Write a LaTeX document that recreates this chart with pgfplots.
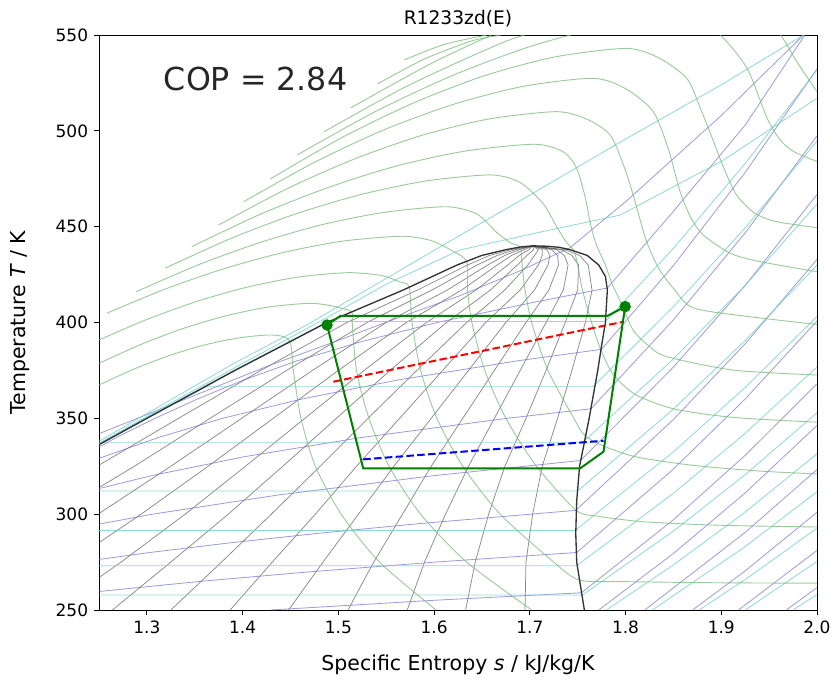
\documentclass[border=0pt]{standalone}
\usepackage{fontspec}
\setmainfont{DejaVu Sans}
\usepackage{pgfplots}
\pgfplotsset{compat=1.18}

\definecolor{isoP}{RGB}{120,205,205}
\definecolor{isoD}{RGB}{105,105,205}
\definecolor{isoH}{RGB}{120,185,120}
\definecolor{isoQ}{RGB}{60,60,60}
\definecolor{cyc}{RGB}{0,128,0}

\tikzset{
  qline/.style={isoQ, line width=0.45pt, opacity=0.6},
  pline/.style={isoP, line width=0.5pt, opacity=0.8},
  dline/.style={isoD, line width=0.5pt, opacity=0.65},
  hline/.style={isoH, line width=0.55pt, opacity=0.75, smooth, tension=0.45},
}

\begin{document}
\begin{tikzpicture}
\useasboundingbox (-59.4pt,-44.4pt) rectangle (440.4pt,366pt);
\begin{axis}[
  name=ax,
  at={(0,0)}, anchor=south west,
  scale only axis, width=430.8pt, height=345pt,
  xmin=1.25, xmax=2.0, ymin=250, ymax=550,
  xtick={1.3,1.4,1.5,1.6,1.7,1.8,1.9,2.0},
  xticklabels={1.3,1.4,1.5,1.6,1.7,1.8,1.9,2.0},
  ytick={250,300,350,400,450,500,550},
  tick pos=left, tick align=outside, major tick length=3pt,
  tick style={black, line width=0.5pt},
  axis line style={line width=0.5pt},
  /pgf/number format/assume math mode=true,
  tick label style={font=\fontsize{10.2}{12}\selectfont},
  label style={font=\fontsize{12.3}{14}\selectfont},
  xlabel={Specific Entropy \textit{s} / kJ/kg/K},
  xlabel style={at={(axis description cs:0.5,-0.0957)}, anchor=center},
  ylabel={Temperature \textit{T} / K},
  ylabel style={at={(axis description cs:-0.11,0.5)}, anchor=center},
]
% ---------- quality lines ----------
\addplot[qline] coordinates {(0.956,250)(1.061,275)(1.158,300)(1.248,325)(1.333,350)(1.419,375)(1.509,400)(1.583,417)(1.635,430)(1.658,435)(1.680,438)(1.703,440)};
\addplot[qline] coordinates {(1.017,250)(1.114,275)(1.204,300)(1.287,325)(1.366,350)(1.446,375)(1.530,400)(1.598,417)(1.645,430)(1.666,435)(1.685,438)(1.703,440)};
\addplot[qline] coordinates {(1.079,250)(1.167,275)(1.249,300)(1.325,325)(1.399,350)(1.473,375)(1.550,400)(1.614,417)(1.656,430)(1.674,435)(1.689,438)(1.703,440)};
\addplot[qline] coordinates {(1.140,250)(1.220,275)(1.294,300)(1.364,325)(1.432,350)(1.500,375)(1.571,400)(1.629,417)(1.666,430)(1.681,435)(1.694,438)(1.703,440)};
\addplot[qline] coordinates {(1.202,250)(1.273,275)(1.340,300)(1.403,325)(1.465,350)(1.527,375)(1.592,400)(1.644,417)(1.677,430)(1.689,435)(1.699,438)(1.703,440)};
\addplot[qline] coordinates {(1.264,250)(1.325,275)(1.385,300)(1.442,325)(1.498,350)(1.554,375)(1.613,400)(1.659,417)(1.687,430)(1.697,435)(1.704,438)(1.703,440)};
\addplot[qline] coordinates {(1.325,250)(1.378,275)(1.430,300)(1.481,325)(1.531,350)(1.582,375)(1.634,400)(1.674,417)(1.698,430)(1.705,435)(1.709,438)(1.703,440)};
\addplot[qline] coordinates {(1.387,250)(1.431,275)(1.476,300)(1.519,325)(1.564,350)(1.609,375)(1.654,400)(1.690,417)(1.709,430)(1.713,435)(1.713,438)(1.703,440)};
\addplot[qline] coordinates {(1.448,250)(1.484,275)(1.521,300)(1.558,325)(1.597,350)(1.636,375)(1.675,400)(1.705,417)(1.719,430)(1.721,435)(1.718,438)(1.703,440)};
\addplot[qline] coordinates {(1.510,250)(1.537,275)(1.567,300)(1.597,325)(1.630,350)(1.663,375)(1.696,400)(1.720,417)(1.730,430)(1.729,435)(1.723,438)(1.703,440)};
\addplot[qline] coordinates {(1.572,250)(1.590,275)(1.612,300)(1.636,325)(1.663,350)(1.690,375)(1.717,400)(1.735,417)(1.740,430)(1.736,435)(1.728,438)(1.703,440)};
\addplot[qline] coordinates {(1.633,250)(1.643,275)(1.657,300)(1.674,325)(1.696,350)(1.717,375)(1.737,400)(1.750,417)(1.751,430)(1.744,435)(1.733,438)(1.703,440)};
\addplot[qline] coordinates {(1.695,250)(1.696,275)(1.703,300)(1.713,325)(1.729,350)(1.744,375)(1.758,400)(1.765,417)(1.761,430)(1.752,435)(1.737,438)(1.703,440)};

% ---------- isochores ----------
\addplot[dline] coordinates {(1.429,250)(1.597,255)(1.754,259)(1.85,297.1)(1.925,330.7)(2.0,368.0)};
\addplot[dline] coordinates {(1.092,250)(1.169,255)(1.257,260)(1.357,265)(1.472,270)(1.601,275)(1.749,280)(1.85,323.5)(1.925,360.1)(2.0,400.8)};
\addplot[dline] coordinates {(1.160,270)(1.230,275)(1.303,280)(1.386,285)(1.479,290)(1.583,295)(1.748,302)(1.85,349.4)(1.925,388.9)(2.0,432.9)};
\addplot[dline] coordinates {(1.198,290)(1.306,300)(1.437,310)(1.598,320)(1.753,328)(1.85,376.7)(1.925,419.3)(2.0,466.8)};
\addplot[dline] coordinates {(1.223,310)(1.304,320)(1.402,330)(1.524,340)(1.676,350)(1.764,355)(1.85,401.4)(1.925,446.8)(2.0,497.3)};
\addplot[dline] coordinates {(1.227,325)(1.255,330)(1.312,340)(1.379,350)(1.461,360)(1.562,370)(1.687,380)(1.775,386)(1.85,429.7)(1.925,478.3)(2.0,532.3)};
\addplot[dline] coordinates {(1.250,335)(1.268,340)(1.3085,350)(1.3525,360)(1.401,370)(1.457,380)(1.524,390)(1.603,400)(1.699,410)(1.750,415)(1.781,418)(1.85,458)(1.925,503)(1.986,549)(2.0,558)};
\addplot[dline] coordinates {(1.25,342)(1.35,362)(1.43,378)(1.491,389)(1.56,402)(1.627,414)(1.69,427)(1.742,439)(1.80,463)(1.90,508)(1.986,550)};
\addplot[dline] coordinates {(1.772,250)(1.85,279.5)(1.925,311.1)(2.0,346.3)};
\addplot[dline] coordinates {(1.820,250)(1.925,290.5)(2.0,323.3)};
\addplot[dline] coordinates {(1.870,250)(1.925,270.4)(2.0,301.0)};
\addplot[dline] coordinates {(1.918,250)(2.0,281.1)};
\addplot[dline] coordinates {(1.968,250)(2.0,261.7)};

% ---------- isobars ----------
\addplot[pline] coordinates {(0.930,257.8)(1.755,257.8)(1.85,291.2)(1.925,320.6)(2.0,352.9)};
\addplot[pline] coordinates {(1.000,273.1)(1.749,273.1)(1.85,310.9)(1.925,342.2)(2.0,376.8)};
\addplot[pline] coordinates {(1.076,291.4)(1.747,291.4)(1.85,332.5)(1.925,366.1)(2.0,403.1)};
\addplot[pline] coordinates {(1.159,312.1)(1.750,312.1)(1.85,354.8)(1.925,390.6)(2.0,430.0)};
\addplot[pline] coordinates {(1.254,337.3)(1.755,337.3)(1.85,381.0)(1.925,419.4)(2.0,461.8)};
\addplot[pline] coordinates {(1.25,336.4)(1.30,350.2)(1.362,366.5)(1.766,366.5)(1.85,408.2)(1.925,449.4)(2.0,494.7)};
\addplot[pline] coordinates {(1.25,336.6)(1.30,350.4)(1.392,375.4)(1.489,400.5)(1.779,400.5)(1.85,438.7)(1.925,483.0)(2.0,531.7)};
\addplot[pline] coordinates {(1.25,337.0)(1.30,351)(1.392,376.5)(1.488,402.5)(1.55,420)(1.627,437.8)(1.70,446)(1.794,456)(1.90,484)(2.0,517)};
\addplot[pline] coordinates {(1.25,338.0)(1.30,352.5)(1.392,379)(1.467,398.7)(1.55,423)(1.627,445.5)(1.70,466.5)(1.794,494)(1.90,524)(1.986,550)};
\addplot[pline] coordinates {(1.780,250)(1.85,273.5)(1.925,301.1)(2.0,331.5)};
\addplot[pline] coordinates {(1.828,250)(1.925,283.1)(2.0,311.7)};
\addplot[pline] coordinates {(1.877,250)(1.925,265.9)(2.0,292.7)};
\addplot[pline] coordinates {(1.925,250)(2.0,275.3)};
\addplot[pline] coordinates {(1.975,250)(2.0,258.1)};

% ---------- isenthalps ----------
\addplot[hline] coordinates {(1.25,367.4)(1.286,375.6)(1.322,382.5)(1.358,388)(1.394,391.8)(1.43,393.5)(1.449,390.6)(1.453,375)(1.461,350)(1.476,325)(1.503,300)(1.543,275)(1.602,250)};
\addplot[hline] coordinates {(1.25,378.7)(1.294,388.6)(1.338,396.9)(1.382,403.4)(1.426,408)(1.47,410)(1.495,408.5)(1.514,405.5)(1.5145,400)(1.519,375)(1.532,350)(1.553,325)(1.586,300)(1.634,275)(1.702,250)};
\addplot[hline] coordinates {(1.25,390.9)(1.302,402)(1.354,411.3)(1.406,418.6)(1.458,423.7)(1.51,426)(1.545,424.5)(1.565,421)(1.574,418.5)(1.577,400)(1.586,375)(1.603,350)(1.630,325)(1.669,300)(1.725,275)(1.752,265.6)(1.80,264.8)(1.9,264.2)(2.0,264)};
\addplot[hline] coordinates {(1.258,404.8)(1.3194,417.5)(1.3808,428.1)(1.4422,436.5)(1.5036,442.4)(1.565,445)(1.595,443)(1.615,438.5)(1.634,431.9)(1.635,417)(1.6395,400)(1.653,375)(1.675,350)(1.707,325)(1.748,302.2)(1.77,299)(1.82,296)(1.90,294.2)(2.0,293.3)};
\addplot[hline] coordinates {(1.289,416.1)(1.3538,430.1)(1.4186,441.8)(1.4834,451.1)(1.5482,457.5)(1.613,460.4)(1.645,456.5)(1.6655,447)(1.68,441.5)(1.69,439.2)(1.692,430)(1.695,417)(1.702,400)(1.719,375)(1.746,350)(1.757,341.3)(1.775,336)(1.81,330)(1.87,325.5)(1.94,322.5)(2.0,321)};
\addplot[hline] coordinates {(1.319,428.3)(1.387,443.7)(1.455,456.6)(1.523,466.7)(1.591,473.8)(1.659,477)(1.69,473)(1.714,462)(1.728,450)(1.738,442)(1.746,437.5)(1.750,430)(1.755,417)(1.7645,400)(1.774,386)(1.787,373)(1.81,362.5)(1.85,355)(1.912,350.5)(2.0,348)};
\addplot[hline] coordinates {(1.347,439.6)(1.4186,456.5)(1.4902,470.6)(1.5618,481.8)(1.6334,489.5)(1.705,493)(1.735,489)(1.749,480.4)(1.758,465)(1.764,450)(1.770,440)(1.779,430)(1.786,420)(1.794,411.7)(1.808,396)(1.825,387.5)(1.843,382.2)(1.912,375.2)(2.0,372.6)};
\addplot[hline] coordinates {(1.375,450.9)(1.4456,469.6)(1.5162,485.2)(1.5868,497.6)(1.6574,506.2)(1.728,510)(1.760,506)(1.784,497.8)(1.798,482)(1.808,466.5)(1.822,442.2)(1.835,428)(1.850,417.8)(1.871,407.6)(1.930,403)(2.0,399)};
\addplot[hline] coordinates {(1.401,463)(1.474,483.3)(1.547,500.4)(1.62,513.8)(1.693,523.2)(1.766,527.4)(1.800,522)(1.829,510)(1.845,490)(1.857,468.3)(1.868,455)(1.881,445.7)(1.91,436)(1.941,431.7)(2.0,426.5)};
\addplot[hline] coordinates {(1.429,474.9)(1.5034,496.4)(1.5778,514.4)(1.6522,528.7)(1.7266,538.6)(1.801,543)(1.835,538)(1.864,527.4)(1.878,512)(1.892,494.3)(1.904,479)(1.916,466.5)(1.935,457)(1.958,452.6)(2.0,449.5)};
\addplot[hline] coordinates {(1.457,487.4)(1.5396,510.3)(1.6222,529.5)(1.7048,544.7)(1.7874,555.3)(1.87,560)(1.899,550)(1.927,532.6)(1.948,506.5)(1.962,495)(1.976,489.1)(2.0,484)};
\addplot[hline] coordinates {(1.485,499.5)(1.568,522.4)(1.651,541.6)(1.694,550)(1.80,565)(1.93,570)(1.962,550)(1.979,536)(2.0,520.4)};
\addplot[hline] coordinates {(1.513,512)(1.5964,535)(1.66,550)};
\addplot[hline] coordinates {(1.541,524.5)(1.59,537.5)(1.64,547)(1.67,550)};
\addplot[hline] coordinates {(1.569,537)(1.61,545)(1.655,550)};

% ---------- saturation dome ----------
\addplot[black!80, line width=0.8pt] coordinates {(0.894,250)(1.008,275)(1.113,300)(1.209,325)(1.300,350)(1.392,375)(1.488,400)(1.568,417)(1.624,430)(1.650,435)(1.675,438)(1.690,439.4)(1.703,440)(1.718,439.8)(1.731,439.2)(1.742,438)(1.760,435)(1.772,430)(1.779,424)(1.781,417)(1.779,400)(1.775,388)(1.771,375)(1.762,350)(1.752,325)(1.749,307)(1.748,290)(1.749,275)(1.757,250)};

% ---------- cycle ----------
\addplot[red, line width=1.2pt, dash pattern=on 4.5pt off 2pt] coordinates {(1.4948,369.1)(1.7978,400.4)};
\addplot[blue, line width=1.2pt, dash pattern=on 4.5pt off 2pt] coordinates {(1.526,328.6)(1.777,338.3)};
\addplot[cyc, line width=1.2pt] coordinates {(1.4882,398.7)(1.502,403.4)(1.781,403.4)(1.7996,408.3)(1.777,332.6)(1.7526,323.9)(1.526,323.9)(1.4882,398.7)};
\addplot[cyc, only marks, mark=*, mark size=3.2pt] coordinates {(1.4882,398.7)(1.7996,408.3)};

\node[anchor=base west, font=\fontsize{19}{22}\selectfont, text=black!85] at (axis cs:1.3117,521.3) {COP = 2.84};
\end{axis}
\node[font=\fontsize{11.2}{13}\selectfont, anchor=center] at ([yshift=9.6pt]ax.north) {R1233zd(E)};
\end{tikzpicture}
\end{document}
